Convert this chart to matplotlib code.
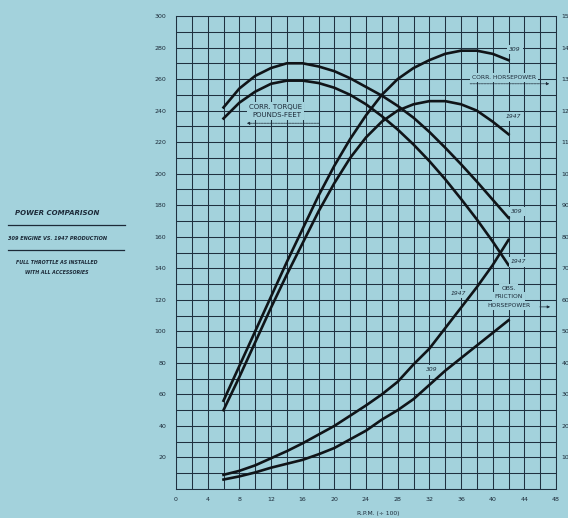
"""
Power comparison chart: corrected torque, corrected horsepower and
observed friction horsepower for the 309 engine vs. 1947 production.
"""
import matplotlib
matplotlib.use('Agg')
import matplotlib.pyplot as plt
import numpy as np

# --- Data --- #
rpm = [6, 8, 10, 12, 14, 16, 18, 20, 22, 24, 26, 28, 30, 32, 34, 36, 38, 40, 42]

# Torque, pounds-feet (left scale)
torque_309 = [242, 254, 262, 267, 270, 270, 268, 265, 260.5, 255, 249.5, 243,
              235.5, 226.5, 216.5, 206, 195, 183.5, 172]
torque_1947 = [235, 245, 252, 257, 259, 259, 257.5, 254.5, 250, 244, 236.5,
               228, 218.5, 208, 196.5, 184, 171, 157, 142]

# Corrected horsepower (right scale)
hp_309 = [28, 39, 50, 61, 72, 82.5, 93, 102.5, 111, 118.5, 125, 130, 133.5,
          136, 138, 139, 139, 138, 136]
hp_1947 = [25, 35.5, 46.5, 57.5, 68, 78, 88, 97, 105, 111.5, 116.5, 120,
           122, 123, 123, 122, 120, 116.5, 112.5]

# Observed friction horsepower (right scale)
fhp_309 = [3, 4, 5.25, 6.75, 8, 9.25, 11, 13, 15.75, 18.5, 22, 25, 28.5, 33,
           37.5, 41.5, 45.5, 49.5, 53.5]
fhp_1947 = [4.5, 5.75, 7.5, 9.75, 12, 14.5, 17.25, 20, 23.25, 26.5, 30, 34,
            39.5, 44.5, 51, 57.5, 64, 71, 79]

x_ticks = list(range(0, 49, 4))
left_ticks = list(range(20, 301, 20))
right_ticks = list(range(10, 151, 10))

bg = '#a3d2dc'
ink = '#1c2a38'
grid_color = '#1f3140'
line_color = '#101418'

fig = plt.figure(figsize=(5.68, 5.18), dpi=100, facecolor=bg)
ax = fig.add_axes([176/568, 1 - 489/518, 380/568, 473/518])
ax.set_facecolor(bg)

# Grid every 2 x units and every 10 lb-ft
ax.set_xlim(0, 48)
ax.set_ylim(0, 300)
ax.set_xticks(x_ticks)
ax.set_xticks(np.arange(0, 49, 2), minor=True)
ax.set_yticks(left_ticks)
ax.set_yticks(np.arange(0, 301, 10), minor=True)
ax.grid(which='both', color=grid_color, linewidth=0.75)
ax.set_axisbelow(True)
ax.tick_params(which='both', length=0, labelsize=4.5, labelcolor=ink)
ax.tick_params(axis='y', pad=7)
ax.tick_params(axis='x', pad=6)
for spine in ax.spines.values():
    spine.set_color(grid_color)
    spine.set_linewidth(0.75)

ax2 = ax.twinx()
ax2.set_ylim(0, 150)
ax2.set_yticks(right_ticks)
ax2.tick_params(length=0, labelsize=4.5, labelcolor=ink, pad=4)
for spine in ax2.spines.values():
    spine.set_visible(False)

# Curves
lw = 1.9
ax.plot(rpm, torque_309, color=line_color, lw=lw, solid_joinstyle='round')
ax.plot(rpm, torque_1947, color=line_color, lw=lw, solid_joinstyle='round')
ax2.plot(rpm, hp_309, color=line_color, lw=lw, solid_joinstyle='round')
ax2.plot(rpm, hp_1947, color=line_color, lw=lw, solid_joinstyle='round')
ax2.plot(rpm, fhp_309, color=line_color, lw=lw, solid_joinstyle='round')
ax2.plot(rpm, fhp_1947, color=line_color, lw=lw, solid_joinstyle='round')

# Labels on the chart
lab = dict(color=ink, fontsize=4.3, ha='center', va='center')
box = dict(facecolor=bg, edgecolor='none', pad=1.5)
ax.text(12.6, 242, 'CORR. TORQUE', bbox=box, color=ink, fontsize=5.0,
        ha='center', va='center')
ax.text(12.8, 237, 'POUNDS-FEET', bbox=box, color=ink, fontsize=5.0,
        ha='center', va='center')
ax.annotate('', xy=(8.6, 232), xytext=(18.4, 232),
            arrowprops=dict(arrowstyle='-|>', color=ink, lw=0.5,
                            linestyle=(0, (3, 1)), mutation_scale=4))

ax.text(41.4, 261, 'CORR. HORSEPOWER', bbox=box, **lab)
ax.annotate('', xy=(47.5, 257), xytext=(36.8, 257),
            arrowprops=dict(arrowstyle='-|>', color=ink, lw=0.5,
                            linestyle=(0, (3, 1)), mutation_scale=4))

ax.text(42, 127, 'OBS.', bbox=box, **lab)
ax.text(42, 122, 'FRICTION', bbox=box, **lab)
ax.text(42, 116.5, 'HORSEPOWER', bbox=box, **lab)
ax.annotate('', xy=(47.6, 115.5), xytext=(45.6, 115.5),
            arrowprops=dict(arrowstyle='-|>', color=ink, lw=0.5,
                            mutation_scale=4))

curve_lab = dict(color=ink, fontsize=4.3, ha='center', va='center',
                 style='italic', bbox=box)
ax.text(42.8, 279, '309', **curve_lab)
ax.text(42.6, 236, '1947', **curve_lab)
ax.text(43.1, 176, '309', **curve_lab)
ax.text(43.3, 144, '1947', **curve_lab)
ax.text(35.7, 124, '1947', **curve_lab)
ax.text(32.3, 75.5, '309', **curve_lab)

fig.text(378/568, 1 - 514/518, 'R.P.M. (÷ 100)', color=ink, fontsize=4.3,
         ha='center', va='center')

# Title block on the left
fig.text(57/568, 1 - 213/518, 'POWER COMPARISON', color=ink, fontsize=5.0,
         weight='bold', style='italic', ha='center', va='center')
fig.add_artist(plt.Line2D([8/568, 125/568], [1 - 225/518, 1 - 225/518],
                          color=ink, lw=0.9))
fig.text(57/568, 1 - 238/518, '309 ENGINE VS. 1947 PRODUCTION', color=ink,
         fontsize=3.6, weight='bold', style='italic', ha='center',
         va='center')
fig.add_artist(plt.Line2D([8/568, 124/568], [1 - 250/518, 1 - 250/518],
                          color=ink, lw=0.9))
fig.text(57/568, 1 - 262/518, 'FULL THROTTLE AS INSTALLED', color=ink,
         fontsize=3.4, weight='bold', style='italic', ha='center',
         va='center')
fig.text(57/568, 1 - 273/518, 'WITH ALL ACCESSORIES', color=ink,
         fontsize=3.4, weight='bold', style='italic', ha='center',
         va='center')

fig.savefig('out.png', dpi=100, facecolor=bg)
